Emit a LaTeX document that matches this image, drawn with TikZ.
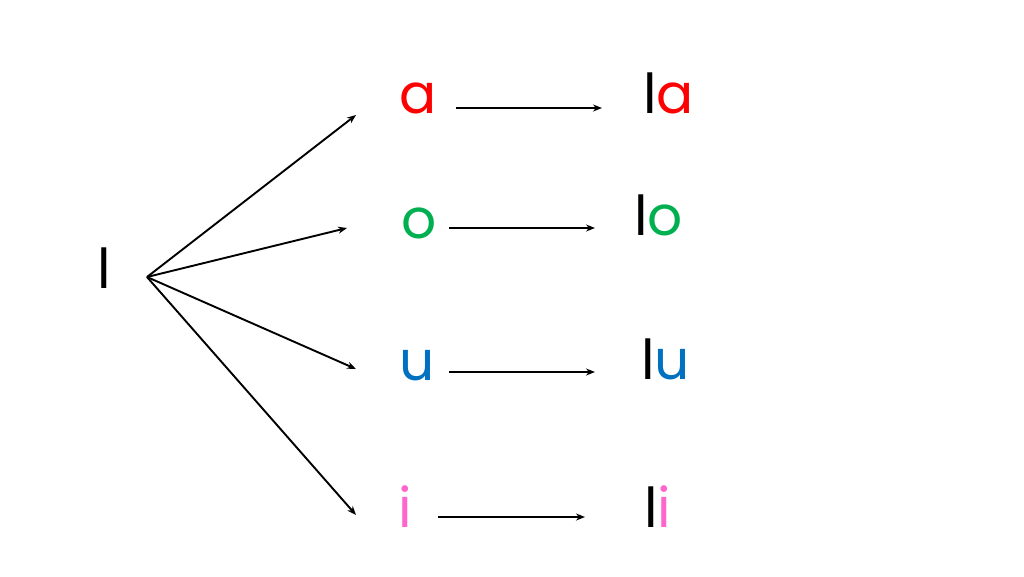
\documentclass[tikz,border=0pt]{standalone}
\usepackage{fontspec}
\setmainfont{Poppins}
\usetikzlibrary{arrows.meta}
\definecolor{vred}{RGB}{255,0,0}
\definecolor{vgreen}{RGB}{0,176,80}
\definecolor{vblue}{RGB}{0,112,192}
\definecolor{vpink}{RGB}{255,102,204}

\begin{document}
\begin{tikzpicture}[x=1pt,y=-1pt,font=\fontsize{55}{60}\selectfont,
	letter/.style={inner sep=0pt,outer sep=0pt},
	link/.style={line width=1.9pt,-{Stealth[length=9pt,width=7pt]}}]
		\useasboundingbox (0,0) rectangle (1024,576);
		\node[letter,anchor=base] (L) at (104,288) {l};
		\coordinate (fan) at (147,277);
		\foreach \X/\C/\Vx/\Vy/\Sx/\Sy/\Ex/\Ey/\Ax/\Bx/\Ay [count=\Y] in 
		{a/vred/418/113/643/113/356/115/456/602/108,
		 o/vgreen/419/238/634/235/347/228/449/595/228,
		 u/vblue/417/380/641/379/356/369/449/595/372,
		 i/vpink/405/527/644/527/356/515/438/585/517}
		{\node[letter,anchor=base,text=\C] (V-\Y) at (\Vx,\Vy) {\X};
			\node[letter,anchor=base west] (S-\Y) at (\Sx,\Sy) {l\textcolor{\C}{\X}};
			\coordinate (E-\Y) at (\Ex,\Ey);
			\coordinate (A-\Y) at (\Ax,\Ay);
			\coordinate (B-\Y) at (\Bx,\Ay);
			\draw[link] (fan) -- (E-\Y);
			\draw[link] (A-\Y) -- (B-\Y);}
		\end{tikzpicture}
\end{document}
